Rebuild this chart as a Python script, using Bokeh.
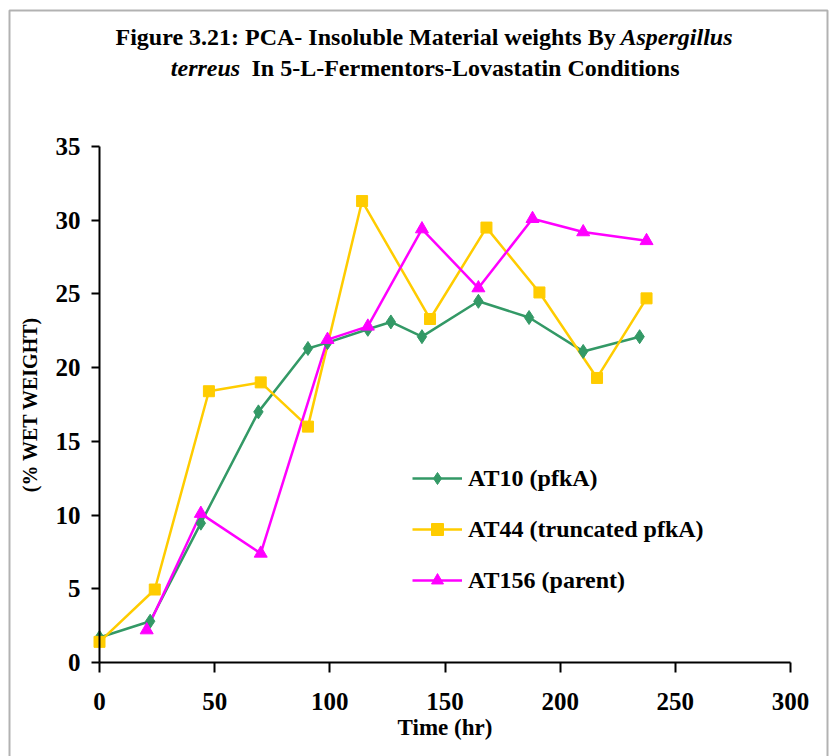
from bokeh.plotting import figure
from bokeh.models import Range1d, FixedTicker, Label, BoxAnnotation, Legend, LegendItem
from bokeh.embed import file_html
from bokeh.resources import INLINE

# Sampling times (hr) and insoluble material (% wet weight) for each strain
at10_time = [0, 22, 44, 69, 90.5, 99, 116.5, 126.5, 140, 164.5, 186.5, 210, 234.5]
at10_wt = [1.7, 2.8, 9.45, 17.0, 21.3, 21.7, 22.6, 23.1, 22.1, 24.5, 23.4, 21.1, 22.1]

at44_time = [0, 24, 47.5, 70, 90.5, 114, 143.5, 168, 191, 216, 237.5]
at44_wt = [1.4, 4.95, 18.4, 19.0, 16.0, 31.3, 23.3, 29.5, 25.1, 19.3, 24.7]

at156_time = [20.5, 44, 70, 99, 116.5, 140, 164.5, 188, 210, 237.5]
at156_wt = [2.2, 10.1, 7.4, 21.9, 22.8, 29.4, 25.4, 30.1, 29.2, 28.6]

series_names = ["AT10 (pfkA)", "AT44 (truncated pfkA)", "AT156 (parent)"]
x_ticks = [0, 50, 100, 150, 200, 250, 300]
y_ticks = [0, 5, 10, 15, 20, 25, 30, 35]
X_MAX, Y_MAX = 300, 35

FONT = "Liberation Serif"

# Page geometry: the plotting frame fills the canvas, the axes sit at fixed
# positions inside it so the title and chart border can share the same canvas.
W, H = 829, 756
AX_LEFT, AX_RIGHT = 99, 790     # pixel columns of x = 0 and x = X_MAX
AX_BOTTOM, AX_TOP = 662, 146    # pixel rows of y = 0 and y = Y_MAX
kx = (AX_RIGHT - AX_LEFT) / X_MAX
ky = (AX_BOTTOM - AX_TOP) / Y_MAX


def cx(px):
    return (px - AX_LEFT) / kx


def cy(py):
    return (AX_BOTTOM - py) / ky


p = figure(width=W, height=H, output_backend="svg", toolbar_location=None,
           x_range=Range1d(cx(0), cx(W)), y_range=Range1d(cy(H), cy(0)),
           min_border=0, min_border_left=0, min_border_right=0,
           min_border_top=0, min_border_bottom=0)
p.background_fill_color = "white"
p.border_fill_color = "white"
p.outline_line_color = None
p.grid.visible = False

# axes
p.xaxis.fixed_location = 0
p.yaxis.fixed_location = 0
p.xaxis.bounds = (0, X_MAX)
p.yaxis.bounds = (0, Y_MAX)
for ax in (p.xaxis[0], p.yaxis[0]):
    ax.axis_line_color = "black"
    ax.axis_line_width = 2
    ax.major_tick_line_color = "black"
    ax.major_tick_line_width = 2
    ax.major_tick_in = 0
    ax.minor_tick_line_color = None
    ax.major_label_text_font = FONT
    ax.major_label_text_font_style = "bold"
    ax.major_label_text_font_size = "25px"
    ax.major_label_text_color = "black"
    ax.axis_label_text_font = FONT
    ax.axis_label_text_font_style = "bold"
    ax.axis_label_text_color = "black"

p.xaxis.ticker = FixedTicker(ticks=x_ticks)
p.yaxis.ticker = FixedTicker(ticks=y_ticks)
p.xaxis.major_tick_out = 10
p.yaxis.major_tick_out = 8
p.xaxis.major_label_standoff = 20
p.yaxis.major_label_standoff = 11
p.xaxis.axis_label = "Time (hr)"
p.xaxis.axis_label_text_font_size = "23px"
p.xaxis.axis_label_standoff = 2
p.yaxis.axis_label = "(% WET WEIGHT)"
p.yaxis.axis_label_text_font_size = "20px"
p.yaxis.axis_label_standoff = 12

# series
GREEN, YELLOW, MAGENTA = "#339966", "#FFCC00", "#FF00FF"

l1 = p.line(at10_time, at10_wt, line_color=GREEN, line_width=2.5)
l2 = p.line(at44_time, at44_wt, line_color=YELLOW, line_width=2.5)
l3 = p.line(at156_time, at156_wt, line_color=MAGENTA, line_width=2.5)
m1 = p.scatter(at10_time, at10_wt, marker="diamond", size=14,
               fill_color=GREEN, line_color=GREEN)
m2 = p.scatter(at44_time, at44_wt, marker="square", size=11,
               fill_color=YELLOW, line_color=YELLOW)
m3 = p.scatter(at156_time, at156_wt, marker="triangle", size=13,
               fill_color=MAGENTA, line_color=MAGENTA)

legend = Legend(items=[
    LegendItem(label=series_names[0], renderers=[l1, m1]),
    LegendItem(label=series_names[1], renderers=[l2, m2]),
    LegendItem(label=series_names[2], renderers=[l3, m3]),
], location=(412, H - 595))
legend.label_text_font = FONT
legend.label_text_font_style = "bold"
legend.label_text_font_size = "24px"
legend.label_text_color = "black"
legend.glyph_width = 50
legend.glyph_height = 30
legend.label_height = 30
legend.label_standoff = 6
legend.spacing = 21
legend.padding = 0
legend.margin = 0
legend.border_line_color = None
legend.background_fill_alpha = 0
p.add_layout(legend)

# two-line title with the species name in italics
title_parts = [
    ("Figure 3.21: PCA- Insoluble Material weights By", "bold", "left", 115, 36),
    ("Aspergillus", "bold italic", "left", 620, 36),
    ("terreus", "bold italic", "center", 205, 67),
    ("In 5-L-Fermentors-Lovastatin Conditions", "bold", "left", 251, 67),
]
for txt, style, align, tx, ty in title_parts:
    p.add_layout(Label(x=cx(tx), y=cy(ty), text=txt,
                       text_font=FONT, text_font_style=style, text_font_size="24px",
                       text_baseline="middle", text_align=align, text_color="black"))

# chart border
p.add_layout(BoxAnnotation(left=cx(9), right=cx(827), top=cy(10), bottom=cy(H + 40),
                           fill_alpha=0, line_color="black", line_width=2))

open("out.html", "w").write(file_html(p, INLINE))
